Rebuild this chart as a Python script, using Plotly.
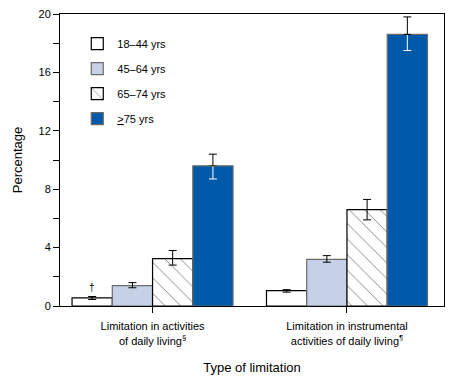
import plotly.graph_objects as go

categories = ["Limitation in activities<br>of daily living<sup>§</sup>",
              "Limitation in instrumental<br>activities of daily living<sup>¶</sup>"]
cat_pos = [0, 1]
age_groups = ["18–44 yrs", "45–64 yrs", "65–74 yrs", "<u>></u>75 yrs"]
values = {
    "18–44 yrs": [0.55, 1.05],
    "45–64 yrs": [1.4, 3.2],
    "65–74 yrs": [3.25, 6.6],
    "<u>></u>75 yrs": [9.6, 18.6],
}
ci_low = {
    "18–44 yrs": [0.45, 0.95],
    "45–64 yrs": [1.25, 3.0],
    "65–74 yrs": [2.8, 5.9],
    "<u>></u>75 yrs": [8.7, 17.5],
}
ci_high = {
    "18–44 yrs": [0.65, 1.12],
    "45–64 yrs": [1.6, 3.45],
    "65–74 yrs": [3.8, 7.3],
    "<u>></u>75 yrs": [10.4, 19.8],
}
y_ticks = [0, 4, 8, 12, 16, 20]

fills = ["white", "#c6d1e7", "white", "#005aa9"]
lines = ["black", "#6b6b6b", "black", "#6b6b6b"]
patterns = ["", "", "\\", ""]

fig = go.Figure()
for i, g in enumerate(age_groups):
    v = values[g]
    plus = [h - a for h, a in zip(ci_high[g], v)]
    minus = [a - l for a, l in zip(v, ci_low[g])]
    dark = (i == 3)
    fig.add_trace(go.Bar(
        x=cat_pos, y=v, name=g, offsetgroup=str(i), legendgroup=str(i),
        marker=dict(color=fills[i], line=dict(color=lines[i], width=1.2),
                    pattern=dict(shape=patterns[i], fgcolor="black", bgcolor="white",
                                 size=11, solidity=0.08) if patterns[i] else None),
        error_y=dict(type="data", symmetric=False,
                     array=[0, 0] if dark else plus, arrayminus=minus,
                     color="white" if dark else "black", thickness=1, width=4),
    ))
    if dark:
        fig.add_trace(go.Bar(
            x=cat_pos, y=v, offsetgroup=str(i), showlegend=False, hoverinfo="skip",
            marker=dict(color="rgba(0,0,0,0)", line=dict(width=0)),
            error_y=dict(type="data", symmetric=False, array=plus, arrayminus=[0, 0],
                         color="black", thickness=1, width=4),
        ))

fig.add_annotation(x=-0.31, y=0.72, text="†", showarrow=False, yanchor="bottom",
                   font=dict(size=10, color="black"))

fig.update_layout(
    width=465, height=372,
    margin=dict(l=52, r=29, t=6, b=74, autoexpand=False),
    paper_bgcolor="white", plot_bgcolor="white",
    barmode="group", bargap=0.172, bargroupgap=0,
    font=dict(family="Liberation Sans, Arial, sans-serif", size=11, color="black"),
    showlegend=True,
    legend=dict(x=0.045, y=0.948, xanchor="left", yanchor="top",
                traceorder="grouped", tracegroupgap=6,
                font=dict(size=11), bgcolor="rgba(0,0,0,0)", itemwidth=30),
    xaxis=dict(range=[-0.476, 1.499], tickvals=cat_pos, ticktext=categories,
               automargin=False, ticklabeloverflow="allow", ticklabelstandoff=4,
               showline=True, linecolor="black", linewidth=1, mirror=True,
               ticks="outside", ticklen=6, tickcolor="black", showgrid=False, zeroline=False,
               title=dict(text="Type of limitation", font=dict(size=13), standoff=17)),
    yaxis=dict(range=[0, 20], tickvals=y_ticks, automargin=False, ticklabeloverflow="allow",
               showline=True, linecolor="black", linewidth=1, mirror=True,
               ticks="outside", ticklen=6, tickcolor="black", showgrid=False, zeroline=False,
               minor=dict(dtick=2, ticks="outside", ticklen=6, tickcolor="black"),
               title=dict(text="Percentage", font=dict(size=13), standoff=12)),
)

fig.write_html("out.html")
